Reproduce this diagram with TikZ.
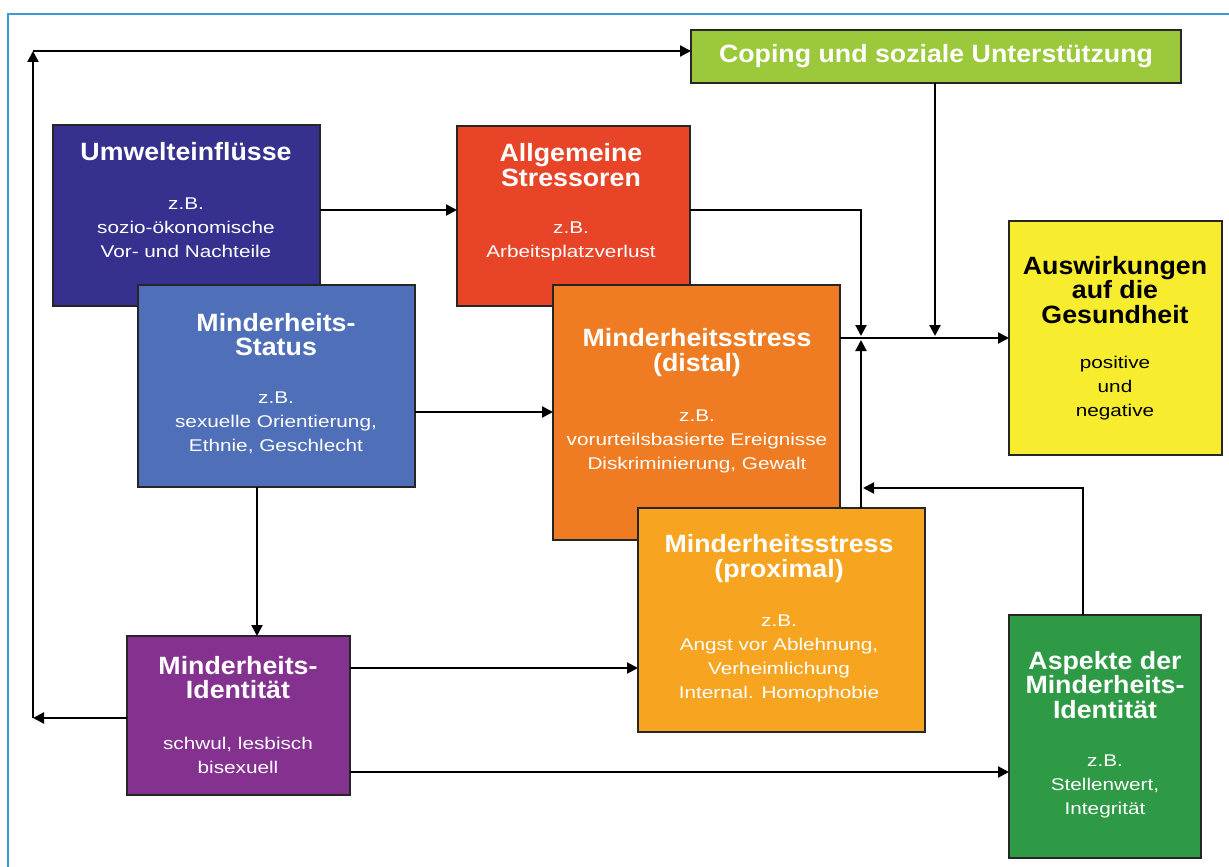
\documentclass[tikz,border=0pt]{standalone}
\usepackage{fontspec}
\setmainfont{Liberation Sans}
\newfontfamily\tfont[FakeStretch=1.07]{Liberation Sans}
\newfontfamily\bfont[FakeStretch=1.22]{Liberation Sans}
\usetikzlibrary{arrows.meta}
\definecolor{cCop}{HTML}{9CC93B}
\definecolor{cUmw}{HTML}{36318F}
\definecolor{cAll}{HTML}{E84428}
\definecolor{cSta}{HTML}{4F6FB8}
\definecolor{cDis}{HTML}{EF7C22}
\definecolor{cPro}{HTML}{F7A520}
\definecolor{cAus}{HTML}{F7EC2D}
\definecolor{cIde}{HTML}{84318F}
\definecolor{cAsp}{HTML}{2E9A45}
\definecolor{cFrm}{HTML}{3C9AD6}
\tikzset{
  box/.style={draw=black!85, line width=1.6pt, inner sep=0pt, outer sep=0pt},
  ttl/.style={align=center, text=white, inner sep=0pt, font=\tfont\bfseries\fontsize{25}{24.5}\selectfont},
  bdy/.style={align=center, text=white, inner sep=0pt, font=\bfont\fontsize{17}{24}\selectfont},
  arr/.style={line width=2.2pt, -{Triangle[length=11pt,width=11pt]}},
  frm/.style={draw=cFrm, line width=1.5pt}
}
\begin{document}
\begin{tikzpicture}[x=1pt,y=-1pt]
\useasboundingbox (0,0) rectangle (1229,867);
\draw[frm] (8,867) -- (8,14) -- (1229,14);
% boxes
\node[box, fill=cCop, minimum width=490pt, minimum height=53pt] (cop) at (936,56.5) {};
\node[box, fill=cUmw, minimum width=267pt, minimum height=181pt] (umw) at (186.5,215.5) {};
\node[box, fill=cSta, minimum width=277pt, minimum height=202pt] (sta) at (276.5,386) {};
\node[box, fill=cAll, minimum width=233pt, minimum height=180pt] (all) at (573.5,216) {};
\node[box, fill=cDis, minimum width=287pt, minimum height=255pt] (dis) at (696.5,412.5) {};
\node[box, fill=cPro, minimum width=287pt, minimum height=224pt] (pro) at (781.5,620) {};
\node[box, fill=cAus, minimum width=213pt, minimum height=234pt] (aus) at (1115.5,338) {};
\node[box, fill=cIde, minimum width=223pt, minimum height=159pt] (ide) at (238.5,715.5) {};
\node[box, fill=cAsp, minimum width=192pt, minimum height=243pt] (asp) at (1105,736.5) {};
% texts
\node[ttl] (copT) at (936,56) {Coping und soziale Unterstützung};
\node[ttl] (umwT) at (186,152) {Umwelteinflüsse};
\node[bdy] (umwB) at (186,228) {z.B.\\sozio-ökonomische\\Vor- und Nachteile};
\node[ttl] (allT) at (571,165) {Allgemeine\\Stressoren};
\node[bdy] (allB) at (571,241) {z.B.\\Arbeitsplatzverlust};
\node[ttl] (staT) at (276,334.5) {Minderheits-\\Status};
\node[bdy] (staB) at (276,423) {z.B.\\sexuelle Orientierung,\\Ethnie, Geschlecht};
\node[ttl] (disT) at (697,352.5) {Minderheitsstress\\(distal)};
\node[bdy] (disB) at (697,441) {z.B.\\vorurteilsbasierte Ereignisse\\Diskriminierung, Gewalt};
\node[ttl] (proT) at (779,558.5) {Minderheitsstress\\(proximal)};
\node[bdy] (proB) at (779,658.5) {z.B.\\Angst vor Ablehnung,\\Verheimlichung\\Internal. Homophobie};
\node[ttl, text=black] (ausT) at (1115,290) {Auswirkungen\\auf die\\Gesundheit};
\node[bdy, text=black] (ausB) at (1115,388) {positive\\und\\negative};
\node[ttl] (ideT) at (238,677.5) {Minderheits-\\Identität};
\node[bdy] (ideB) at (238,755.5) {schwul, lesbisch\\bisexuell};
\node[ttl] (aspT) at (1105,685) {Aspekte der\\Minderheits-\\Identität};
\node[bdy] (aspB) at (1105,786) {z.B.\\Stellenwert,\\Integrität};
% connectors
\coordinate (lb) at (33,718);
\coordinate (lt) at (33,51);
\draw[arr] (ide.west |- lb) -- (lb);
\draw[arr] (lb) -- (lt);
\draw[arr] (lt) -- (cop.west |- lt);
\draw[arr] (umw.east |- 0,210) -- (all.west |- 0,210);
\draw[arr] (all.east |- 0,210) -- (861,210) -- (861,336);
\draw[arr] (cop.south -| 935,0) -- (935,336);
\draw[arr] (dis.east |- 0,338) -- (aus.west |- 0,338);
\draw[arr] (pro.north -| 861,0) -- (861,340);
\draw[arr] (asp.north -| 1083,0) -- (1083,488) -- (863,488);
\draw[arr] (sta.east |- 0,412) -- (dis.west |- 0,412);
\draw[arr] (sta.south -| 257,0) -- (ide.north -| 257,0);
\draw[arr] (ide.east |- 0,668) -- (pro.west |- 0,668);
\draw[arr] (ide.east |- 0,772) -- (asp.west |- 0,772);
\end{tikzpicture}
\end{document}
